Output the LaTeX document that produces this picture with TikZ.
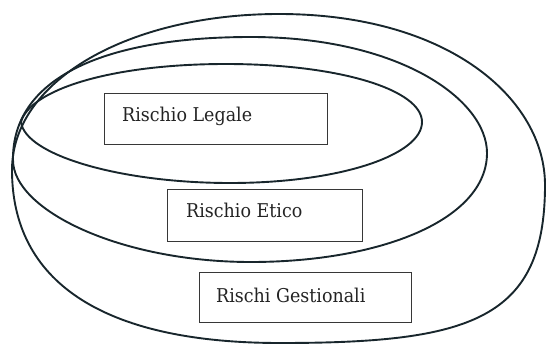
\documentclass[tikz,border=0pt]{standalone}
\usepackage{fontspec}
\setmainfont{DejaVu Serif}[FakeStretch=0.92]
\definecolor{curve}{RGB}{24,38,44}
\definecolor{boxline}{RGB}{55,55,55}
\definecolor{txt}{RGB}{35,35,35}
\begin{document}
\begin{tikzpicture}[x=1pt,y=-1pt,
  ring/.style={draw=curve,line width=1.9pt},
  boxnode/.style={draw=boxline,line width=0.9pt,inner sep=0,anchor=north west},
  labelnode/.style={anchor=base west,inner sep=0,text=txt,font=\fontsize{19}{22}\selectfont}]
\useasboundingbox (0,0) rectangle (546,345);
% outer ring
\draw[ring] (12,170) .. controls (12,80) and (130,14) .. (279,14)
  .. controls (450,14) and (545,100) .. (545,185)
  .. controls (545,320) and (470,343) .. (280,343)
  .. controls (100,343) and (12,280) .. cycle;
% middle ring
\draw[ring] (13,160) .. controls (12,80) and (100,37) .. (251,37)
  .. controls (400,37) and (487,100) .. (487,153)
  .. controls (487,220) and (380,262) .. (251,262)
  .. controls (120,262) and (13,210) .. cycle;
% inner ring
\draw[ring] (21,122) .. controls (30,90) and (110,64) .. (226,64)
  .. controls (340,64) and (422,90) .. (422,122)
  .. controls (422,155) and (340,183) .. (230,183)
  .. controls (120,183) and (25,155) .. cycle;
% boxes
\node[boxnode,minimum width=223,minimum height=51] (legalebox) at (104,93) {};
\node[boxnode,minimum width=195,minimum height=52] (eticobox) at (167,189) {};
\node[boxnode,minimum width=212,minimum height=50] (gestbox) at (199,272) {};
% labels
\node[labelnode] (legale) at (122,121) {Rischio Legale};
\node[labelnode] (etico) at (186,217) {Rischio Etico};
\node[labelnode] (gest) at (216,302) {Rischi Gestionali};
\end{tikzpicture}
\end{document}
